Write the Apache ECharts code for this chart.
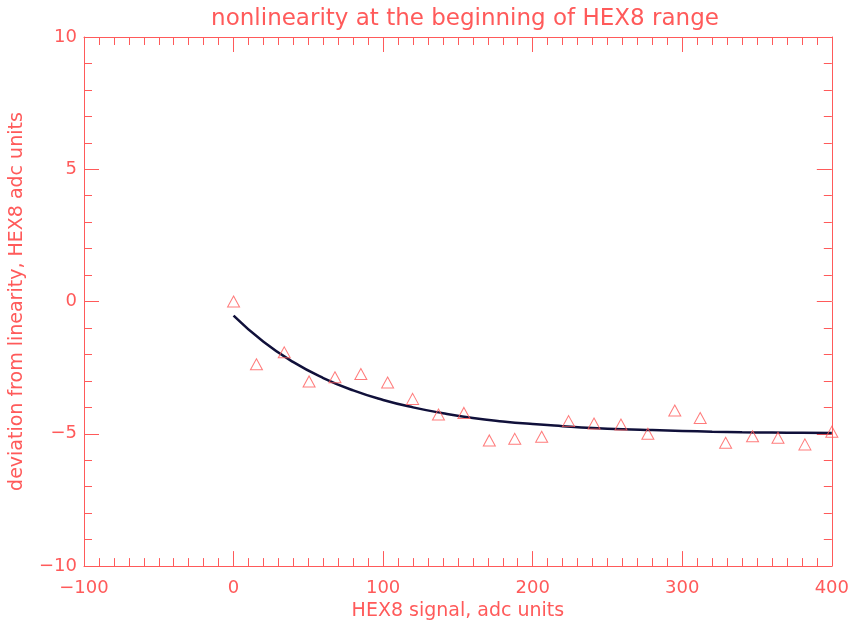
<!DOCTYPE html>
<html><head><meta charset="utf-8">
<script src="https://cdn.jsdelivr.net/npm/echarts@6/dist/echarts.min.js"></script>
<style>html,body{margin:0;padding:0;background:#fff}#c{width:852px;height:626px}</style>
</head><body><div id="c"></div>
<script>
var pointX = [0, 15.3, 33.9, 50.5, 67.8, 85.1, 103, 119.7, 137, 154, 171, 188, 206, 224, 241, 259, 277, 295, 312, 329, 347, 364, 382, 400];
var pointY = [0, -2.37, -1.92, -3.02, -2.86, -2.74, -3.06, -3.68, -4.27, -4.21, -5.25, -5.19, -5.11, -4.52, -4.61, -4.65, -5.0, -4.12, -4.40, -5.34, -5.09, -5.15, -5.40, -4.92];
var fitX = [0, 20, 40, 60, 80, 100, 120, 140, 160, 180, 200, 220, 240, 260, 280, 300, 320, 340, 360, 380, 400];
var fitY = [-0.53, -1.52, -2.29, -2.89, -3.36, -3.72, -4.00, -4.22, -4.40, -4.53, -4.63, -4.71, -4.78, -4.83, -4.86, -4.89, -4.92, -4.94, -4.95, -4.96, -4.97];
var titleText = 'nonlinearity at the beginning of HEX8 range';
var xName = 'HEX8 signal, adc units';
var yName = 'deviation from linearity, HEX8 adc units';

var RED = '#ff5a5a';
var FONT = 'DejaVu Sans';
var fmt = function (v) { return String(v).replace('-', '\u2212'); };

function xAxisDef(pos, labels) {
  return {
    type: 'value', position: pos, min: -100, max: 400, interval: 100,
    axisLine: { show: true, onZero: false, lineStyle: { color: RED, width: 1 } },
    axisTick: { show: true, inside: true, length: 15, lineStyle: { color: RED } },
    minorTick: { show: true, splitNumber: 10, length: 8, lineStyle: { color: RED } },
    splitLine: { show: false },
    axisLabel: { show: labels, color: RED, fontFamily: FONT, fontSize: 18, margin: 13, formatter: fmt },
    name: labels ? xName : '', nameLocation: 'middle', nameGap: 35,
    nameTextStyle: { color: RED, fontFamily: FONT, fontSize: 19 }
  };
}
function yAxisDef(pos, labels) {
  return {
    type: 'value', position: pos, min: -10, max: 10, interval: 5,
    axisLine: { show: true, onZero: false, lineStyle: { color: RED, width: 1 } },
    axisTick: { show: true, inside: true, length: 15, lineStyle: { color: RED } },
    minorTick: { show: true, splitNumber: 5, length: 8, lineStyle: { color: RED } },
    splitLine: { show: false },
    axisLabel: { show: labels, color: RED, fontFamily: FONT, fontSize: 18, margin: 7, formatter: fmt },
    name: labels ? yName : '', nameLocation: 'middle', nameGap: 57, nameRotate: 90,
    nameTextStyle: { color: RED, fontFamily: FONT, fontSize: 19 }
  };
}

var chart = echarts.init(document.getElementById('c'));
chart.setOption({
  backgroundColor: '#fff',
  animation: false,
  title: {
    text: titleText, left: 460, top: 3, textAlign: 'center',
    textStyle: { color: RED, fontFamily: FONT, fontSize: 23, fontWeight: 'normal' }
  },
  grid: { left: 84, top: 37, width: 752, height: 532, containLabel: false },
  xAxis: [xAxisDef('bottom', true), xAxisDef('top', false)],
  yAxis: [yAxisDef('left', true), yAxisDef('right', false)],
  series: [
    {
      type: 'line', xAxisIndex: 0, yAxisIndex: 0,
      data: fitX.map(function (x, i) { return [x, fitY[i]]; }),
      smooth: true, showSymbol: false, symbol: 'none',
      lineStyle: { color: '#10103a', width: 2.5 }, z: 2
    },
    {
      type: 'scatter', xAxisIndex: 0, yAxisIndex: 0,
      data: pointX.map(function (x, i) { return [x, pointY[i]]; }),
      symbol: 'triangle', symbolSize: [12, 11],
      itemStyle: { color: 'rgba(0,0,0,0)', borderColor: RED, borderWidth: 1 }, z: 3
    }
  ]
});
</script></body></html>
